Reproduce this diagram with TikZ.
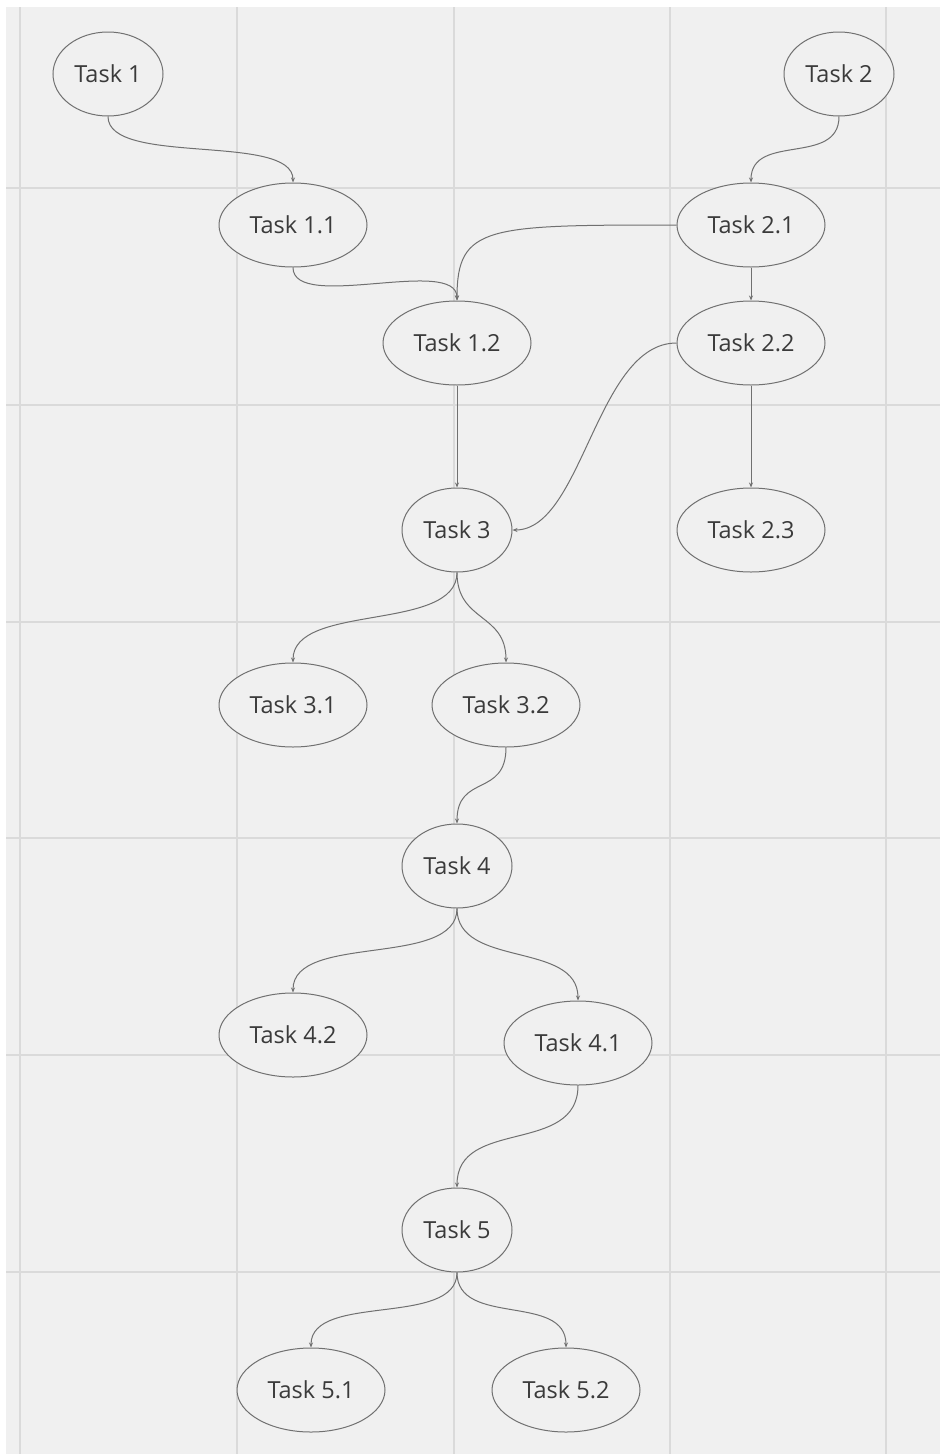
\documentclass[tikz,border=0pt]{standalone}
\usepackage{fontspec}
\setmainfont{Open Sans}
\usetikzlibrary{shapes.geometric,arrows.meta}
\definecolor{bgc}{HTML}{F0F0F0}
\definecolor{gridc}{HTML}{DADADA}
\definecolor{edgec}{HTML}{707070}
\definecolor{txtc}{HTML}{3A3A3A}
\tikzset{
  task/.style={ellipse,draw=edgec,line width=1pt,fill=bgc,minimum width=148pt,minimum height=84pt,inner sep=0pt,font=\fontsize{23.5}{26}\selectfont,text=txtc},
  tasksm/.style={task,minimum width=110pt},
  conn/.style={draw=edgec,line width=1pt,-{Stealth[length=5pt,width=4pt]}},
  gridline/.style={draw=gridc,line width=1.3pt}
}
\begin{document}
\begin{tikzpicture}[x=1pt,y=-1pt]
\useasboundingbox (0,0) rectangle (940,1454);
\fill[white] (0,0) rectangle (940,1454);
\fill[bgc] (6,7) rectangle (940,1454);
\foreach \gx in {20,237,454,670,886} \draw[gridline] (\gx,7) -- (\gx,1454);
\foreach \gy in {188,405,622,838,1055,1272} \draw[gridline] (6,\gy) -- (940,\gy);

\node[tasksm] (t1) at (108,74) {Task 1};
\node[tasksm] (t2) at (839,74) {Task 2};
\node[task] (t11) at (293,225) {Task 1.1};
\node[task] (t21) at (751,225) {Task 2.1};
\node[task] (t12) at (457,343) {Task 1.2};
\node[task] (t22) at (751,343) {Task 2.2};
\node[tasksm] (t3) at (457,530) {Task 3};
\node[task] (t23) at (751,530) {Task 2.3};
\node[task] (t31) at (293,705) {Task 3.1};
\node[task] (t32) at (506,705) {Task 3.2};
\node[tasksm] (t4) at (457,866) {Task 4};
\node[task] (t42) at (293,1035) {Task 4.2};
\node[task] (t41) at (578,1043) {Task 4.1};
\node[tasksm] (t5) at (457,1230) {Task 5};
\node[task] (t51) at (311,1390) {Task 5.1};
\node[task] (t52) at (566,1390) {Task 5.2};

\draw[conn] (t1.south) .. controls +(0,50) and +(0,-50) .. (t11.north);
\draw[conn] (t2.south) .. controls +(0,50) and +(0,-50) .. (t21.north);
\draw[conn] (t11.south) .. controls +(0,45) and +(0,-45) .. (t12.north);
\draw[conn] (t21.west) .. controls +(-190,0) and +(0,-75) .. (t12.north);
\draw[conn] (t21.south) -- (t22.north);
\draw[conn] (t12.south) -- (t3.north);
\draw[conn] (t22.west) .. controls +(-80,0) and +(70,0) .. (t3.east);
\draw[conn] (t22.south) -- (t23.north);
\draw[conn] (t3.south) .. controls +(0,60) and +(0,-60) .. (t31.north);
\draw[conn] (t3.south) .. controls +(0,50) and +(0,-50) .. (t32.north);
\draw[conn] (t32.south) .. controls +(0,50) and +(0,-50) .. (t4.north);
\draw[conn] (t4.south) .. controls +(0,60) and +(0,-60) .. (t42.north);
\draw[conn] (t4.south) .. controls +(0,60) and +(0,-60) .. (t41.north);
\draw[conn] (t41.south) .. controls +(0,70) and +(0,-70) .. (t5.north);
\draw[conn] (t5.south) .. controls +(0,55) and +(0,-55) .. (t51.north);
\draw[conn] (t5.south) .. controls +(0,55) and +(0,-55) .. (t52.north);
\end{tikzpicture}
\end{document}
